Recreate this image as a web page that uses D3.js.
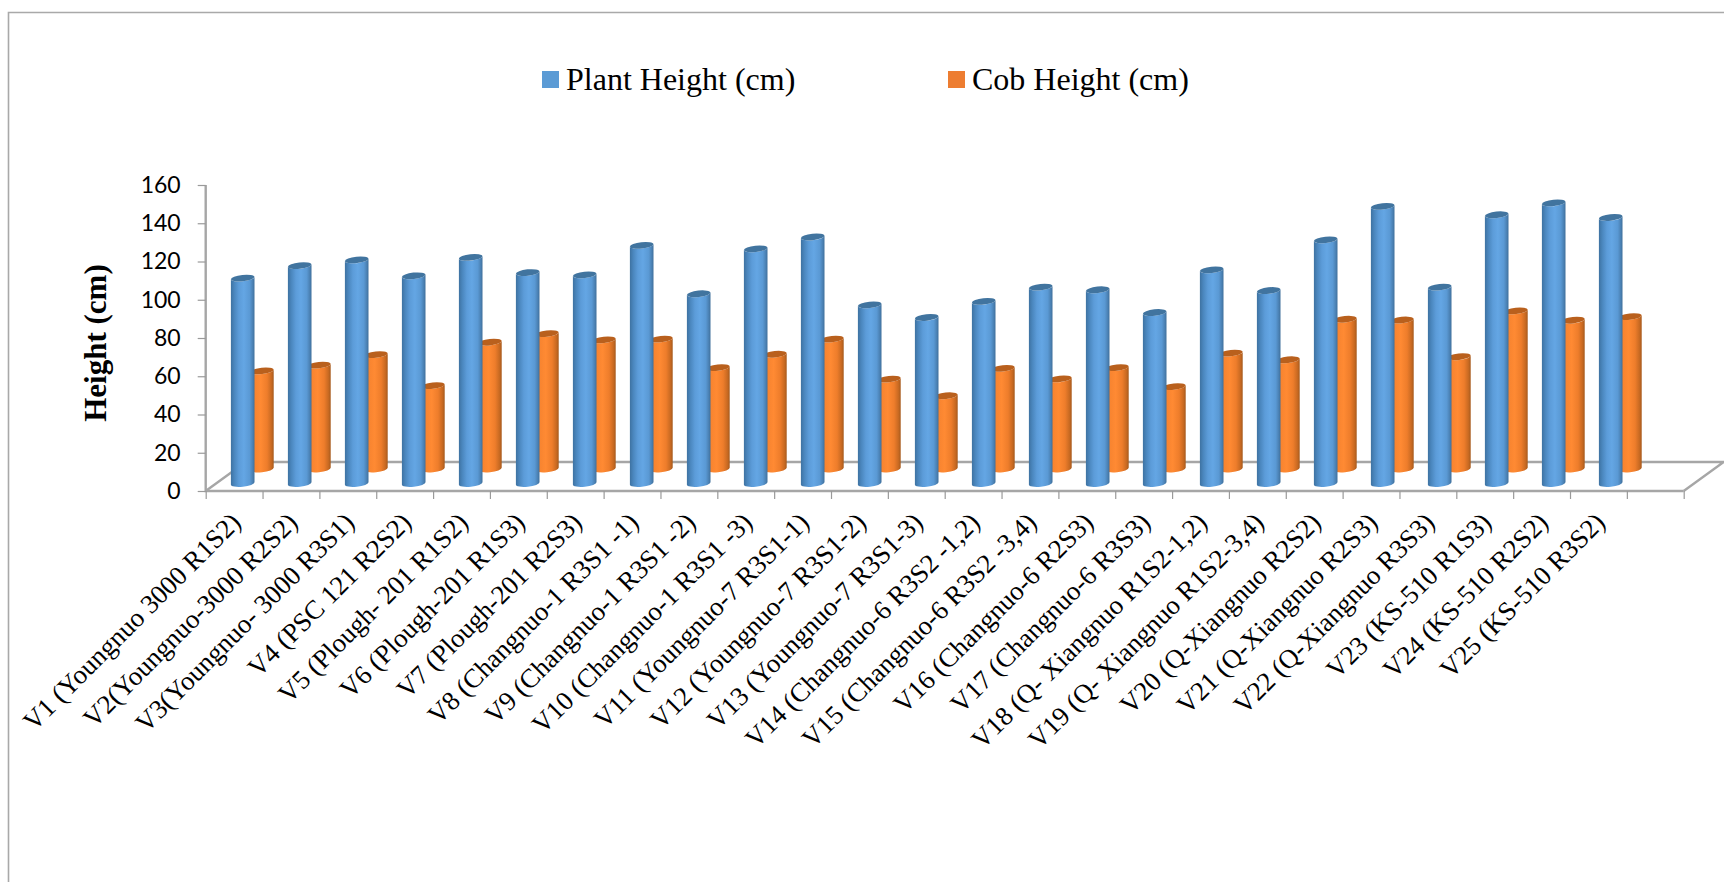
<!DOCTYPE html>
<html>
<head>
<meta charset="utf-8">
<script src="https://cdn.jsdelivr.net/npm/d3@7/dist/d3.min.js"></script>
<style>
  html, body { margin: 0; padding: 0; background: #fff; }
  svg { display: block; }
  .serif { font-family: "Liberation Serif", serif; fill: #000; }
  .y-axis text { font-family: Lato, sans-serif; font-size: 23px; fill: #000; }
  .axis-line { stroke: #a6a6a6; stroke-width: 2.4; fill: none; }
  .domain { display: none; }
  .tick line { stroke: #9a9a9a; stroke-width: 1.2; }
</style>
</head>
<body>
<svg id="chart" width="1724" height="882"></svg>
<script>
const categories = [
  "V1 (Youngnuo 3000 R1S2)", "V2(Youngnuo-3000 R2S2)", "V3(Youngnuo- 3000 R3S1)",
  "V4 (PSC 121 R2S2)", "V5 (Plough- 201 R1S2)", "V6 (Plough-201 R1S3)",
  "V7 (Plough-201 R2S3)", "V8 (Changnuo-1 R3S1 -1)", "V9 (Changnuo-1 R3S1 -2)",
  "V10 (Changnuo-1 R3S1 -3)", "V11 (Youngnuo-7 R3S1-1)", "V12 (Youngnuo-7 R3S1-2)",
  "V13 (Youngnuo-7 R3S1-3)", "V14 (Changnuo-6 R3S2 -1,2)", "V15 (Changnuo-6 R3S2 -3,4)",
  "V16 (Changnuo-6 R2S3)", "V17 (Changnuo-6 R3S3)", "V18 (Q- Xiangnuo R1S2-1,2)",
  "V19 (Q- Xiangnuo R1S2-3,4)", "V20 (Q-Xiangnuo R2S2)", "V21 (Q-Xiangnuo R2S3)",
  "V22 (Q-Xiangnuo R3S3)", "V23 (KS-510 R1S3)", "V24 (KS-510 R2S2)", "V25 (KS-510 R3S2)"
];
const plantHeight = [
  107.4, 113.9, 116.9, 108.6, 118.2, 110.3, 109.1, 124.5, 99.2, 122.7, 128.9, 93.4, 86.8,
  95.2, 102.7, 101.3, 89.4, 111.7, 100.9, 127.4, 144.9, 102.7, 140.5, 146.7, 139.1
];
const cobHeight = [
  51.3, 54.3, 59.8, 43.6, 66.3, 70.8, 67.5, 67.9, 53.0, 60.0, 67.9, 47.0, 38.3,
  52.6, 47.1, 53.0, 43.1, 60.6, 57.1, 78.3, 77.9, 58.7, 82.7, 77.8, 79.7
];
const yTicks = [0, 20, 40, 60, 80, 100, 120, 140, 160];
const seriesNames = ["Plant Height (cm)", "Cob Height (cm)"];

const svg = d3.select("#chart");

// Outer chart frame: only the top and left edges are visible.
svg.append("path")
  .attr("d", "M8.5,882V12.5H1724")
  .attr("fill", "none").attr("stroke", "#a9a9a9").attr("stroke-width", 1.6);

const plot = { left: 205.7, right: 1683.7, top: 185, bottom: 491 };
const depth = { dx: 40, dy: 29 };
const radius = { x: 11.8, y: 3.2, skew: 1.2 };

// One slot beyond the last category keeps the floor running past the final bars.
const x = d3.scaleLinear().domain([0, categories.length + 1]).range([plot.left, plot.right]);
// Perspective spreads the cylinders very slightly wider than the floor ticks.
const barX = d3.scaleLinear().domain([0, categories.length - 1]).range([242.7, 1610.7]);
const y = d3.scaleLinear().domain([0, 160]).range([plot.bottom, plot.top]);
const unit = y(0) - y(1);

const defs = svg.append("defs");
function cylinderGradient(id, stops) {
  const g = defs.append("linearGradient").attr("id", id)
    .attr("x1", 0).attr("x2", 1).attr("y1", 0).attr("y2", 0);
  stops.forEach(([o, c]) => g.append("stop").attr("offset", o).attr("stop-color", c));
}
cylinderGradient("blueBody", [[0, "#3e72a1"], [0.14, "#4a86bd"], [0.34, "#5c9cd9"], [0.55, "#64a6e4"],
  [0.8, "#5a99d4"], [0.93, "#4a80b2"], [1, "#3f6f9b"]]);
cylinderGradient("orangeBody", [[0, "#f17f2d"], [0.45, "#ff8a33"], [0.72, "#ee7d2b"], [0.9, "#c96a22"], [1, "#a65a1d"]]);

// Floor of the 3D plot, behind the cylinders.
const floor = svg.append("g");
floor.append("path").attr("class", "axis-line")
  .attr("d", `M${plot.left},${plot.bottom}L${plot.left + depth.dx},${plot.bottom - depth.dy}H${plot.right + depth.dx}L${plot.right},${plot.bottom}`);
floor.append("path").attr("class", "axis-line")
  .attr("d", `M${plot.left},${plot.top}V${plot.bottom}H${plot.right}`);

function cylinderBody(cx, top, base) {
  const l = cx - radius.x, r = cx + radius.x, s = radius.skew;
  return `M${l},${top + s}L${l},${base + s}` +
    `A${radius.x},${radius.y} -6 0 0 ${r},${base - s}` +
    `L${r},${top - s}A${radius.x},${radius.y} -6 0 1 ${l},${top + s}Z`;
}

function drawSeries(values, offsetX, baseLift, bodyFill, capFill) {
  const baseY = plot.bottom - baseLift;
  const g = svg.append("g").selectAll("g").data(values).join("g");
  g.append("path")
    .attr("fill", `url(#${bodyFill})`)
    .attr("d", (v, i) => cylinderBody(barX(i) + offsetX, baseY - v * unit, baseY));
  g.append("ellipse")
    .attr("fill", capFill)
    .attr("rx", radius.x).attr("ry", radius.y)
    .attr("transform", (v, i) => `translate(${barX(i) + offsetX},${baseY - v * unit}) rotate(-6)`);
}

// The rear series sits further back on the floor, so it is drawn first.
drawSeries(cobHeight, 19.2, 22, "orangeBody", "#b9601d");
drawSeries(plantHeight, 0, 7.5, "blueBody", "#41749f");

// Axes
const yAxis = d3.axisLeft(y).tickValues(yTicks).tickSize(8).tickPadding(17);
svg.append("g").attr("class", "y-axis")
  .attr("transform", `translate(${plot.left},0)`).call(yAxis);

const xAxis = d3.axisBottom(x).tickValues(d3.range(categories.length + 2)).tickSize(8).tickFormat("");
svg.append("g").attr("transform", `translate(0,${plot.bottom})`).call(xAxis);

// Slanted category labels, right-aligned under each slot.
svg.append("g").selectAll("text").data(categories).join("text")
  .attr("class", "serif")
  .attr("font-size", 26.8)
  .attr("text-anchor", "end")
  .attr("transform", (d, i) => `translate(${x(i) + 36.5},${plot.bottom + 33}) rotate(-45)`)
  .text(d => d);

// Axis title
svg.append("text").attr("class", "serif")
  .attr("font-size", 31).attr("font-weight", "bold")
  .attr("text-anchor", "middle")
  .attr("transform", "translate(106,343) rotate(-90)")
  .text("Height (cm)");

// Legend
const legendX = d3.scaleOrdinal().domain(seriesNames).range([542, 948]);
const legendColor = d3.scaleOrdinal().domain(seriesNames).range(["#5b9bd5", "#ed7d31"]);
const legend = svg.append("g").selectAll("g").data(seriesNames).join("g")
  .attr("transform", d => `translate(${legendX(d)},0)`);
legend.append("rect").attr("y", 71).attr("width", 17).attr("height", 17)
  .attr("fill", d => legendColor(d));
legend.append("text").attr("class", "serif")
  .attr("x", 24).attr("y", 90).attr("font-size", 32)
  .text(d => d);
</script>
</body>
</html>
